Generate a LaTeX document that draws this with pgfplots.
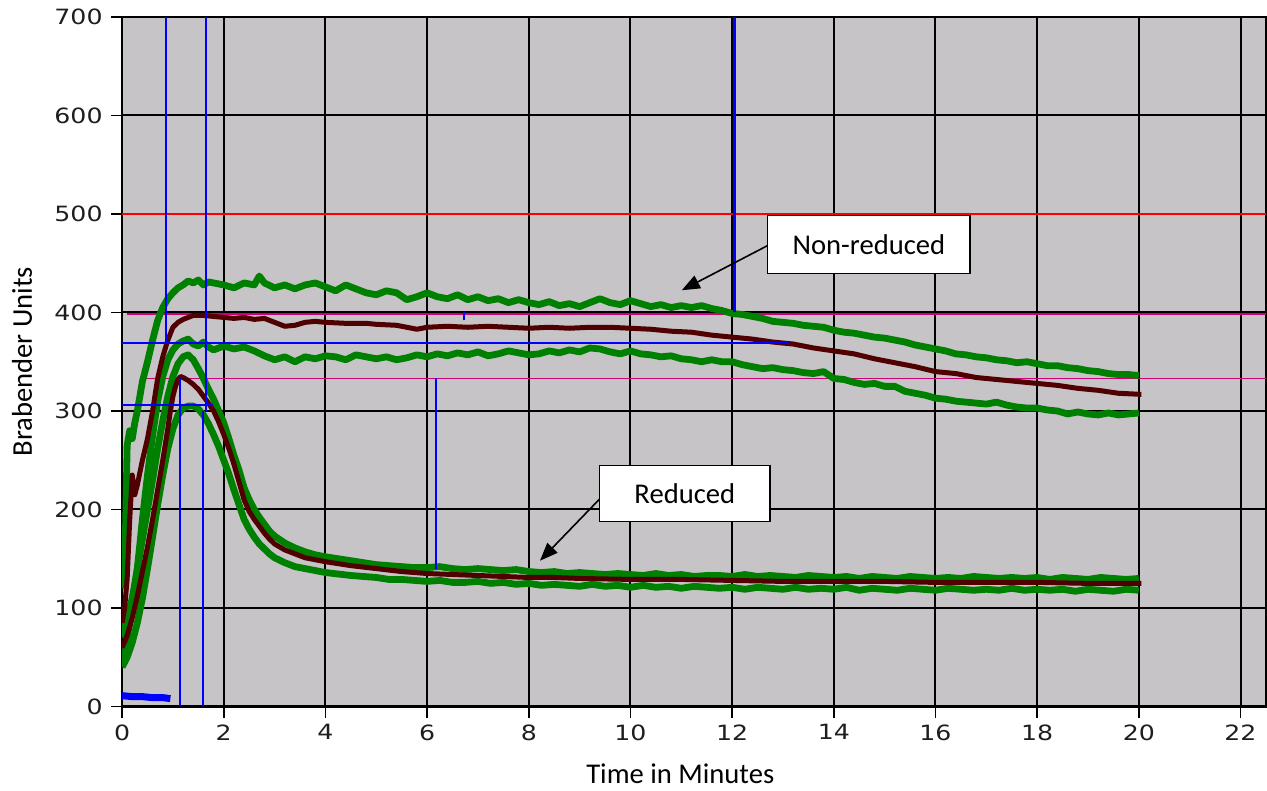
\documentclass[border=0pt]{standalone}
\usepackage{pgfplots}
\pgfplotsset{compat=1.18}
\usepackage{fontspec}
\setmainfont{Carlito}
\newfontfamily\tickfont{DejaVu Sans}
\usetikzlibrary{arrows.meta}
\definecolor{bgc}{RGB}{199,196,199}
\definecolor{cgreen}{RGB}{0,128,0}
\definecolor{cbrown}{RGB}{80,0,0}
\definecolor{cmag}{RGB}{205,0,120}
\definecolor{cblue}{RGB}{0,0,255}
\definecolor{ctick}{RGB}{30,30,30}
\begin{document}
\begin{tikzpicture}
\begin{axis}[
 scale only axis, width=571.5pt, height=344.5pt,
 xmin=0, xmax=22.5, ymin=0, ymax=700,
 xtick={0,2,...,22}, ytick={0,100,...,700},
 grid=major, major grid style={black, line width=1pt},
 axis line style={black, line width=1.1pt},
 axis background/.style={fill=bgc},
 tick align=outside, major tick length=5.5pt, tick style={black, line width=0.8pt},
 xtick pos=bottom, ytick pos=left,
 ticklabel style={font=\tickfont\fontsize{10.5}{12}\selectfont, xscale=1.2, text=ctick},
 /pgf/number format/assume math mode=true,
 xlabel={Time in Minutes}, ylabel={Brabender Units},
 label style={font=\fontsize{14.3}{16}\selectfont},
 xlabel style={at={(axis description cs:0.488,-0.0972)}, anchor=center},
 ylabel style={at={(axis description cs:-0.0875,0.5)}, anchor=center},
 every axis plot/.append style={line join=round},
]
% reference lines
\addplot[red, line width=0.6pt] coordinates {(0,500) (22.5,500)};
\addplot[cmag, line width=0.6pt] coordinates {(0.1,398.5) (22.5,398.5)};
\addplot[cmag, line width=0.6pt] coordinates {(0.35,333) (22.5,333)};

% Non-reduced upper green
\addplot[cgreen, line width=3.4pt] coordinates {
(0,120)(0.05,130)(0.1,265)(0.15,280)(0.2,272)(0.25,288)(0.3,300)(0.4,330)(0.5,350)(0.6,372)(0.7,392)(0.8,405)(0.9,414)(1.0,420)(1.1,425)(1.2,428)(1.3,432)(1.4,430)(1.5,433)(1.6,428)(1.7,431)(1.8,430)(2.0,428)(2.2,425)(2.4,430)(2.6,428)(2.7,437)(2.8,430)(3.0,425)(3.2,428)(3.4,424)(3.6,428)(3.8,430)(4.0,426)(4.2,422)(4.4,428)(4.6,424)(4.8,420)(5.0,418)(5.2,422)(5.4,420)(5.6,413)(5.8,416)(6.0,420)(6.2,416)(6.4,414)(6.6,418)(6.8,413)(7.0,416)(7.2,412)(7.4,414)(7.6,410)(7.8,413)(8.0,410)(8.2,408)(8.4,411)(8.6,407)(8.8,409)(9.0,406)(9.2,410)(9.4,414)(9.6,410)(9.8,408)(10.0,412)(10.2,409)(10.4,406)(10.6,408)(10.8,405)(11.0,407)(11.2,405)(11.4,407)(11.6,404)(11.8,402)(12.0,399)(12.2,398)(12.4,396)(12.6,394)(12.8,391)(13.0,390)(13.2,389)(13.4,387)(13.6,386)(13.8,385)(14.0,382)(14.2,380)(14.4,379)(14.6,377)(14.8,375)(15.0,374)(15.2,372)(15.4,370)(15.6,367)(15.8,365)(16.0,363)(16.2,361)(16.4,358)(16.6,357)(16.8,355)(17.0,354)(17.2,352)(17.4,351)(17.6,349)(17.8,350)(18.0,348)(18.2,346)(18.4,346)(18.6,344)(18.8,343)(19.0,341)(19.2,340)(19.4,338)(19.6,337)(19.8,337)(20.0,336)};

% Non-reduced lower green
\addplot[cgreen, line width=3.4pt] coordinates {
(0,45)(0.05,50)(0.1,70)(0.2,100)(0.3,140)(0.4,190)(0.5,235)(0.6,275)(0.7,310)(0.8,335)(0.9,352)(1.0,362)(1.1,368)(1.2,371)(1.3,373)(1.4,368)(1.5,366)(1.6,370)(1.7,365)(1.8,362)(2.0,366)(2.2,363)(2.4,365)(2.6,361)(2.8,356)(3.0,352)(3.2,355)(3.4,350)(3.6,355)(3.8,353)(4.0,356)(4.2,355)(4.4,352)(4.6,357)(4.8,355)(5.0,353)(5.2,355)(5.4,352)(5.6,354)(5.8,357)(6.0,355)(6.2,358)(6.4,356)(6.6,359)(6.8,357)(7.0,360)(7.2,356)(7.4,358)(7.6,361)(7.8,359)(8.0,357)(8.2,358)(8.4,361)(8.6,359)(8.8,362)(9.0,360)(9.2,364)(9.4,363)(9.6,360)(9.8,358)(10.0,361)(10.2,358)(10.4,357)(10.6,355)(10.8,356)(11.0,353)(11.2,352)(11.4,350)(11.6,352)(11.8,350)(12.0,350)(12.2,347)(12.4,345)(12.6,343)(12.8,344)(13.0,342)(13.2,341)(13.4,339)(13.6,338)(13.8,340)(14.0,333)(14.2,332)(14.4,329)(14.6,327)(14.8,328)(15.0,325)(15.2,325)(15.4,320)(15.6,318)(15.8,316)(16.0,313)(16.2,312)(16.4,310)(16.6,309)(16.8,308)(17.0,307)(17.2,309)(17.4,306)(17.6,304)(17.8,303)(18.0,303)(18.2,301)(18.4,300)(18.6,297)(18.8,299)(19.0,297)(19.2,296)(19.4,298)(19.6,296)(19.8,297)(20.0,298)};

% Reduced upper green
\addplot[cgreen, line width=3.4pt] coordinates {
(0,70)(0.1,90)(0.2,110)(0.3,140)(0.4,170)(0.5,200)(0.6,230)(0.7,262)(0.8,290)(0.9,315)(1.0,335)(1.1,348)(1.2,355)(1.3,357)(1.4,352)(1.5,343)(1.6,333)(1.7,322)(1.8,312)(1.9,300)(2.0,288)(2.1,272)(2.2,255)(2.3,240)(2.4,222)(2.5,210)(2.6,200)(2.7,192)(2.8,185)(2.9,178)(3.0,173)(3.2,166)(3.4,161)(3.6,157)(3.8,154)(4.0,152)(4.25,150)(4.5,148)(4.75,146)(5.0,144)(5.25,143)(5.5,142)(5.75,141)(6.0,141)(6.25,142)(6.5,140)(6.75,139)(7.0,140)(7.25,139)(7.5,138)(7.75,139)(8.0,137)(8.25,136)(8.5,137)(8.75,135)(9.0,136)(9.25,135)(9.5,134)(9.75,135)(10,134)(10.25,133)(10.5,135)(10.75,133)(11,134)(11.25,132)(11.5,133)(11.75,133)(12,132)(12.25,134)(12.5,132)(12.75,133)(13,132)(13.25,131)(13.5,133)(13.75,132)(14,131)(14.25,132)(14.5,130)(14.75,132)(15,131)(15.25,130)(15.5,132)(15.75,131)(16,130)(16.25,131)(16.5,130)(16.75,132)(17,131)(17.25,130)(17.5,131)(17.75,130)(18,131)(18.25,129)(18.5,131)(18.75,130)(19,129)(19.25,131)(19.5,130)(19.75,129)(20,130)};

% Reduced lower green
\addplot[cgreen, line width=3.4pt] coordinates {
(0,40)(0.1,50)(0.2,65)(0.3,85)(0.4,110)(0.5,140)(0.6,172)(0.7,205)(0.8,235)(0.9,262)(1.0,282)(1.1,296)(1.2,303)(1.3,305)(1.4,305)(1.5,302)(1.6,296)(1.7,287)(1.8,276)(1.9,264)(2.0,250)(2.1,236)(2.2,220)(2.3,205)(2.4,190)(2.5,180)(2.6,172)(2.7,165)(2.8,160)(2.9,155)(3.0,151)(3.2,146)(3.4,142)(3.6,140)(3.8,138)(4.0,136)(4.5,133)(5,131)(5.25,129)(5.5,129)(5.75,128)(6,127)(6.25,128)(6.5,126)(6.75,126)(7,127)(7.25,125)(7.5,126)(7.75,124)(8,125)(8.25,123)(8.5,124)(8.75,123)(9,122)(9.25,124)(9.5,122)(9.75,123)(10,121)(10.25,123)(10.5,121)(10.75,122)(11,120)(11.25,122)(11.5,121)(11.75,120)(12,121)(12.25,119)(12.5,121)(12.75,120)(13,119)(13.25,121)(13.5,119)(13.75,120)(14,119)(14.25,121)(14.5,118)(14.75,120)(15,119)(15.25,118)(15.5,120)(15.75,119)(16,118)(16.25,120)(16.5,119)(16.75,118)(17,119)(17.25,118)(17.5,120)(17.75,118)(18,119)(18.25,118)(18.5,119)(18.75,117)(19,119)(19.25,118)(19.5,117)(19.75,119)(20,118)};

% Non-reduced mean (brown)
\addplot[cbrown, line width=2.5pt] coordinates {
(0,85)(0.05,100)(0.1,130)(0.15,190)(0.2,235)(0.25,215)(0.3,225)(0.4,250)(0.5,272)(0.6,300)(0.7,333)(0.8,355)(0.9,372)(1.0,385)(1.1,390)(1.2,393)(1.4,397)(1.6,397)(1.8,396)(2.0,395)(2.2,394)(2.4,395)(2.6,393)(2.8,394)(3.0,390)(3.2,386)(3.4,387)(3.6,390)(3.8,391)(4.0,390)(4.4,389)(4.8,389)(5.0,388)(5.4,387)(5.8,383)(6.0,385)(6.4,386)(6.8,385)(7.2,386)(7.6,385)(8.0,384)(8.4,385)(8.8,384)(9.2,385)(9.6,385)(10.0,384)(10.4,383)(10.8,381)(11.2,380)(11.6,377)(12.0,375)(12.4,373)(12.8,370)(13.2,368)(13.6,364)(14.0,361)(14.4,358)(14.8,353)(15.2,349)(15.6,345)(16.0,340)(16.4,338)(16.8,334)(17.2,332)(17.6,330)(18.0,328)(18.4,326)(18.8,323)(19.2,321)(19.6,318)(20.0,317)(20.05,317)};

% Reduced mean (brown)
\addplot[cbrown, line width=2.5pt] coordinates {
(0,60)(0.1,72)(0.2,90)(0.3,112)(0.4,137)(0.5,162)(0.6,190)(0.7,220)(0.8,250)(0.9,282)(0.95,300)(1.0,315)(1.05,325)(1.1,332)(1.15,335)(1.2,334)(1.3,331)(1.4,327)(1.5,322)(1.6,315)(1.7,308)(1.8,300)(1.9,289)(2.0,276)(2.1,262)(2.2,246)(2.3,228)(2.4,210)(2.5,198)(2.6,190)(2.7,183)(2.8,176)(2.9,170)(3.0,165)(3.2,159)(3.4,155)(3.6,151)(3.8,149)(4.0,147)(4.5,143)(5.0,140)(5.5,137)(6.0,135)(6.5,134)(7.0,133)(7.5,132)(8.0,131)(8.5,131)(9.0,130)(10,129)(11,129)(12,128)(13,127)(14,127)(15,127)(16,126)(17,126)(18,126)(19,125)(20,125)(20.05,125)};

% blue markers
\addplot[cblue, line width=3.5pt] coordinates {(0,11)(0.2,10)(0.4,10)(0.6,9)(0.8,9)(0.95,8)};
\addplot[cblue, line width=0.9pt] coordinates {(0,369) (13.13,369)};
\addplot[cblue, line width=0.9pt] coordinates {(0,306) (1.79,306)};
\addplot[cblue, line width=1pt] coordinates {(0.86,700) (0.86,370)};
\addplot[cblue, line width=1pt] coordinates {(1.65,700) (1.65,300)};
\addplot[cblue, line width=1pt] coordinates {(1.6,300) (1.6,0)};
\addplot[cblue, line width=1pt] coordinates {(1.14,333) (1.14,0)};
\addplot[cblue, line width=0.9pt] coordinates {(6.17,333) (6.17,140)};
\addplot[cblue, line width=1.6pt] coordinates {(12.05,700) (12.05,400)};
\addplot[cblue, line width=0.9pt] coordinates {(6.72,392) (6.72,400)};

% annotations
\draw[black, line width=0.8pt, -{Triangle[length=9pt,width=7pt]}] (axis cs:12.70,468) -- (axis cs:11.01,422.6);
\draw[black, line width=0.8pt, -{Triangle[length=9pt,width=7pt]}] (axis cs:9.40,211) -- (axis cs:8.22,148);
\node[draw=black, line width=0.6pt, fill=white, minimum width=101pt, minimum height=29pt, font=\fontsize{14.3}{16}\selectfont] at (axis cs:14.69,469) {Non-reduced};
\node[draw=black, line width=0.6pt, fill=white, minimum width=85pt, minimum height=28pt, font=\fontsize{14.3}{16}\selectfont] at (axis cs:11.07,216.4) {Reduced};
\end{axis}
\path ([shift={(-61pt,-40.5pt)}]current axis.south west) rectangle ([shift={(0.5pt,8.5pt)}]current axis.north east);
\end{tikzpicture}
\end{document}
